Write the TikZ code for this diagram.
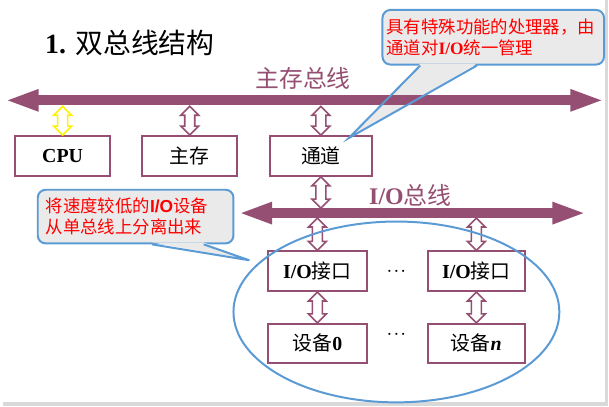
\documentclass[tikz,border=0pt]{standalone}
\usepackage{fontspec}
\setmainfont{Liberation Serif}
\newfontfamily\cjk{Noto Sans CJK SC}
\newfontfamily\lsans{Liberation Sans}
\usepackage{tikz}
\usetikzlibrary{calc}
\usetikzlibrary{arrows.meta}

\definecolor{busc}{RGB}{149,79,114}
\definecolor{notec}{RGB}{91,155,213}
\definecolor{notebg}{RGB}{234,234,234}
\definecolor{edgegray}{RGB}{217,217,217}

\tikzset{
  unit/.style={draw=busc, line width=2pt, inner sep=0pt, minimum height=40pt,
    font=\fontsize{20}{24}\selectfont},
  bus/.style={draw=busc, line width=10pt,
    {Triangle[length=34pt,width=20pt]}-{Triangle[length=34pt,width=20pt]}},
  link/.style={draw=busc, fill=white, line width=1.6pt, line join=miter,
    to path={let \p1=(\tikztostart), \p2=(\tikztotarget) in
      (\x1,\y1) -- (\x1+9pt,\y1-9pt) -- (\x1+5pt,\y1-9pt) -- (\x1+5pt,\y2+9pt)
      -- (\x1+9pt,\y2+9pt) -- (\x1,\y2) -- (\x1-9pt,\y2+9pt) -- (\x1-5pt,\y2+9pt)
      -- (\x1-5pt,\y1-9pt) -- (\x1-9pt,\y1-9pt) -- cycle}},
  note/.style={draw=notec, fill=notebg, line width=2pt, rounded corners=8pt,
    align=left, text=red, font=\fontsize{17.5}{21}\selectfont\cjk},
  noteline/.style={draw=notec, line width=2pt, line join=miter},
  gap/.style={font=\fontsize{22}{24}\selectfont\bfseries},
}

\begin{document}
\begin{tikzpicture}[x=1pt, y=-1pt]
    % 1. 背景
    \fill[edgegray] (0,0) rectangle (609,409);
    \fill[white] (0,0) rectangle (606,405);

    % 2. 标题与部件
    \node[anchor=west, font=\fontsize{28}{32}\selectfont] (title) at (39,43)
        {\textbf{1.} {\cjk 双总线结构}};
    \node[unit, minimum width=96pt] (cpu) at (60,157) {\textbf{CPU}};
    \node[unit, minimum width=96pt] (mem) at (188,157) {\cjk 主存};
    \node[unit, minimum width=102pt] (chan) at (320,157) {\cjk 通道};
    \node[unit, minimum width=99pt] (io1) at (316.5,273) {\textbf{I/O}{\cjk 接口}};
    \node[unit, minimum width=97pt] (io2) at (476.5,273) {\textbf{I/O}{\cjk 接口}};
    \node[unit, minimum width=99pt, minimum height=39pt] (dev1) at (316.5,345.5) {{\cjk 设备}\textbf{0}};
    \node[unit, minimum width=97pt, minimum height=39pt] (dev2) at (476.5,345.5) {{\cjk 设备}\textbf{\textit{n}}};
    \node[gap] (dots1) at (396,274) {$\cdot\!\cdot\!\cdot$};
    \node[gap] (dots2) at (396,337) {$\cdot\!\cdot\!\cdot$};

    % 3. 说明框
    \node[note, text width=215pt, inner xsep=4pt, inner ysep=0pt, minimum height=55pt]
        (chnote) at (493.5,37.5)
        {具有特殊功能的处理器，由\\通道对{\normalfont\bfseries I/O}统一管理};
    \node[note, text width=181pt, inner xsep=8pt, inner ysep=0pt, minimum height=54pt]
        (ionote) at (133.5,218)
        {将速度较低的{\lsans\bfseries I/O}设备\\从单总线上分离出来};
    \coordinate (chtip) at (348,139);
    \coordinate (iotip) at (248,262);
    \fill[notebg] ($(chnote.south)+(-73.5,-2)$) -- (chtip) -- ($(chnote.south)+(-16.5,-2)$) -- cycle;
    \fill[notebg] ($(ionote.south)+(16.5,-2)$) -- (iotip) -- ($(ionote.south)+(68.5,-2)$) -- cycle;

    % 4. 总线
    \coordinate (mbL) at (2,101);
    \coordinate (mbR) at (605,101);
    \coordinate (ibL) at (237,214.5);
    \coordinate (ibR) at (587,214.5);
    \draw[bus] (mbL) -- (mbR);
    \draw[bus] (ibL) -- (ibR);
    \node[font=\fontsize{24}{28}\selectfont\cjk, text=busc] (mblabel) at (302,79) {主存总线};
    \node[font=\fontsize{24}{28}\selectfont, text=busc] (iblabel) at (410,197)
        {\textbf{I/O}{\cjk 总线}};

    \draw[noteline] ($(chnote.south)+(-73.5,0)$) -- (chtip) -- ($(chnote.south)+(-16.5,0)$);
    \draw[noteline] ($(ionote.south)+(16.5,0)$) -- (iotip) -- ($(ionote.south)+(68.5,0)$);

    % 5. 双向连线
    \draw[link, draw=yellow] ($(cpu.north |- mbL)+(0,6)$) to (cpu.north);
    \draw[link] ($(mem.north |- mbL)+(0,6)$) to (mem.north);
    \draw[link] ($(chan.north |- mbL)+(0,6)$) to (chan.north);
    \draw[link] (chan.south) to ($(chan.south |- ibL)+(0,-5)$);
    \draw[link] ($(io1.north |- ibL)+(0,5)$) to (io1.north);
    \draw[link] ($(io2.north |- ibL)+(0,5)$) to (io2.north);
    \draw[link] (io1.south) to (dev1.north);
    \draw[link] (io2.south) to (dev2.north);

    % 6. 低速设备范围
    \draw[notec, line width=2pt] (396,314) ellipse (164 and 91);

\end{tikzpicture}
\end{document}
